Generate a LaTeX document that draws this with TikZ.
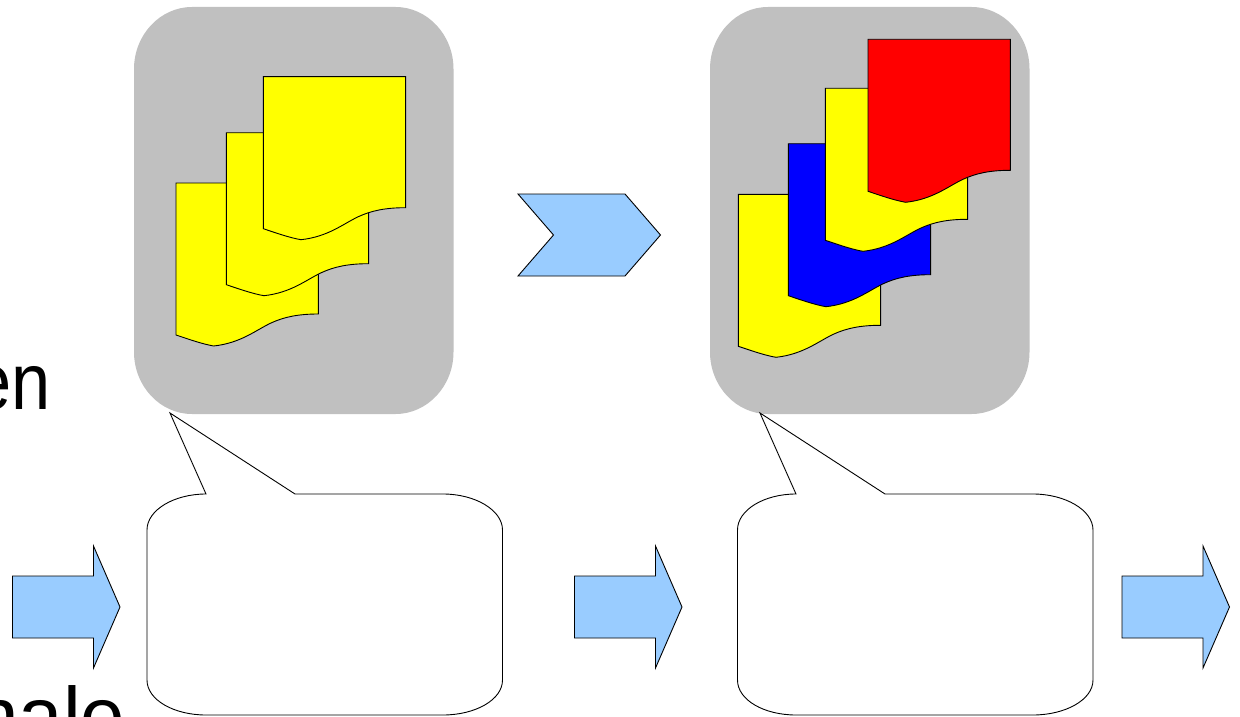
\documentclass[tikz,border=0pt]{standalone}
\usepackage{fontspec}
\setmainfont{Liberation Sans}
\definecolor{arrowblue}{HTML}{99CCFF}
\definecolor{panelgrey}{HTML}{C0C0C0}
\definecolor{docyellow}{RGB}{255,255,0}
\definecolor{docblue}{RGB}{0,0,255}
\definecolor{docred}{RGB}{255,0,0}
\tikzset{
  x=1pt,y=-1pt,
  outline/.style={draw=black,line width=0.9pt,line join=miter},
  panel/.style={fill=panelgrey,draw=none},
  bubble/.style={outline,fill=white},
  arrowshape/.style={outline,fill=arrowblue},
  bigtext/.style={inner sep=0pt,font=\fontsize{80}{80}\selectfont},
  docpage/.pic={
    \path[outline,fill=#1] (0,0) -- (142.3,0) -- (142.3,131)
      .. controls (122,131) and (108,134) .. (95,140)
      .. controls (80,147) and (65,160) .. (37.7,163)
      .. controls (26,161) and (12,156) .. (0,152) -- cycle;
  },
  rightarrow/.pic={
    \path[arrowshape] (0,-31) -- (81,-31) -- (81,-61) -- (107.5,0) -- (81,61) -- (81,31) -- (0,31) -- cycle;
  },
  greypanel/.pic={
    \path[panel] (58,0) -- (261.5,0)
      .. controls (293.5,0) and (319.5,28) .. (319.5,62) -- (319.5,345)
      .. controls (319.5,379) and (293.5,407) .. (261.5,407) -- (58,407)
      .. controls (26,407) and (0,379) .. (0,345) -- (0,62)
      .. controls (0,28) and (26,0) .. (58,0) -- cycle;
  },
}
\begin{document}
\begin{tikzpicture}
\useasboundingbox (0,0) rectangle (1240,717);
\fill[white] (0,0) rectangle (1240,717);
% text cut by the page edge
\node[bigtext,anchor=base east,xscale=0.88] (textEn) at (50.5,409) {en};
\node[bigtext,anchor=base east] (textNale) at (125.5,743) {nale};
% grey panels
\pic at (134,7) {greypanel};
\pic at (710,7) {greypanel};
% first stack
\pic at (176,183) {docpage=docyellow};
\pic at (226.3,132.7) {docpage=docyellow};
\pic at (263.3,76.7) {docpage=docyellow};
% second stack
\pic at (738.3,194.3) {docpage=docyellow};
\pic at (788.3,143.7) {docpage=docblue};
\pic at (825.3,88.3) {docpage=docyellow};
\pic at (868,39.3) {docpage=docred};
% chevron
\path[outline,fill=arrowblue] (518,194) -- (625,194) -- (660.5,235) -- (625,276) -- (518,276) -- (553.5,235) -- cycle;
% callouts
\path[bubble] (170,413) -- (206,494)
  .. controls (174,494) and (147,510) .. (147,530) -- (147,680)
  .. controls (147,700) and (174,715) .. (206,715) -- (443,715)
  .. controls (475,715) and (502.5,700) .. (502.5,680) -- (502.5,530)
  .. controls (502.5,510) and (475,494) .. (443,494) -- (295,494) -- cycle;
\path[bubble] (760,413) -- (796,494)
  .. controls (764,494) and (737.5,510) .. (737.5,530) -- (737.5,680)
  .. controls (737.5,700) and (764,715) .. (796,715) -- (1033,715)
  .. controls (1065,715) and (1093,700) .. (1093,680) -- (1093,530)
  .. controls (1093,510) and (1065,494) .. (1033,494) -- (885,494) -- cycle;
% arrows
\pic at (12.5,607) {rightarrow};
\pic at (574.5,607) {rightarrow};
\pic at (1122,607) {rightarrow};
\end{tikzpicture}
\end{document}
